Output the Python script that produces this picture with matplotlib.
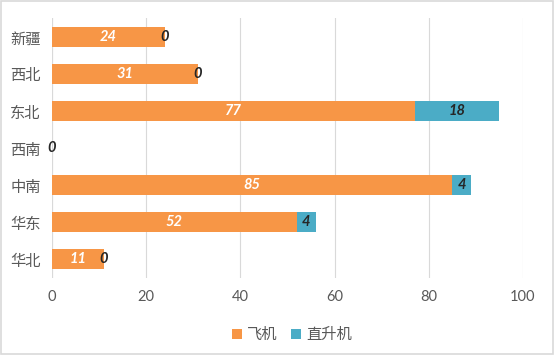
import matplotlib.pyplot as plt
from matplotlib.patches import Rectangle

regions = ['新疆', '西北', '东北', '西南', '中南', '华东', '华北']
planes = [24, 31, 77, 0, 85, 52, 11]
helis = [0, 0, 18, 0, 4, 4, 0]
xticks = [0, 20, 40, 60, 80, 100]

plt.rcParams['font.family'] = ['Lato', 'Noto Sans CJK SC', 'DejaVu Sans']

fig = plt.figure(figsize=(5.54, 3.55), dpi=100)
ax = fig.add_axes([0.0939, 0.218, 0.850, 0.730])

ypos = list(range(len(regions)))
ax.barh(ypos, planes, height=0.55, color='#F79646', label='飞机', zorder=2)
ax.barh(ypos, helis, left=planes, height=0.55, color='#4BACC6', label='直升机', zorder=2)

for y, p, h in zip(ypos, planes, helis):
    ax.text(p / 2, y, str(p), ha='center', va='center', color='white',
            fontsize=10.5, fontweight='bold', style='italic', family='Lato', zorder=3)
    ax.text(p + h / 2, y, str(h), ha='center', va='center', color='#262626',
            fontsize=10.5, fontweight='bold', style='italic', family='Lato', zorder=4)

ax.set_xlim(0, 100)
ax.set_ylim(len(regions) - 0.5, -0.5)
ax.set_xticks(xticks)
ax.set_yticks(ypos)
ax.set_yticklabels(regions, family='Noto Sans CJK SC', fontweight='light', fontsize=11)
ax.tick_params(axis='both', length=0, colors='#595959')
ax.tick_params(axis='x', pad=9, labelsize=10.5)
ax.tick_params(axis='y', pad=8)
ax.grid(axis='x', color='#D9D9D9', linewidth=0.8, zorder=0)
for s in ax.spines.values():
    s.set_visible(False)
ax.axvline(0, color='#D9D9D9', linewidth=0.8, zorder=1)

leg = ax.legend(loc='upper center', bbox_to_anchor=(0.51, -0.135), ncol=2, frameon=False,
                handlelength=0.65, handleheight=0.65, handletextpad=0.35, columnspacing=0.9,
                prop={'family': 'Noto Sans CJK SC', 'size': 11, 'weight': 'light'})
for t in leg.get_texts():
    t.set_color('#595959')

fig.patches.append(Rectangle((0.002, 0.003), 0.996, 0.994, transform=fig.transFigure,
                             fill=False, edgecolor='#D9D9D9', linewidth=1.2))

fig.savefig('out.png', dpi=100)
